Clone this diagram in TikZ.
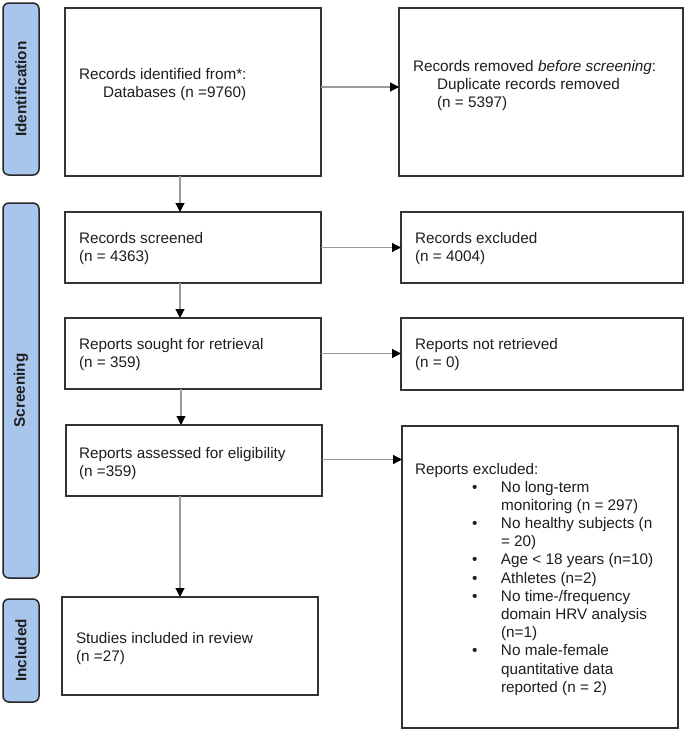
\documentclass[tikz,border=0pt]{standalone}
\usepackage{fontspec}
\setmainfont{Liberation Sans}
\usetikzlibrary{arrows.meta}
\definecolor{lblfill}{HTML}{A8C6EC}
\definecolor{boxline}{HTML}{333333}
\definecolor{arrline}{HTML}{9A9A9A}
\definecolor{txtcol}{HTML}{1E1E1E}
\tikzset{
  box/.style={draw=boxline, line width=1.6pt, fill=white, inner sep=0pt, outer sep=0pt},
  phase/.style={draw=black!85, line width=1.5pt, fill=lblfill, rounded corners=6pt, inner sep=0pt, outer sep=0pt},
  phasetext/.style={rotate=90, text=txtcol, font=\fontsize{15.3}{18.2}\selectfont\bfseries},
  txt/.style={anchor=base west, inner sep=0pt, outer sep=0pt, text=txtcol, font=\fontsize{15.3}{18.2}\selectfont},
  arr/.style={draw=arrline, line width=1.2pt, -{Triangle[length=9pt,width=9pt,color=black,fill=black]}}
}
\begin{document}
\begin{tikzpicture}[x=1pt,y=-1pt]
\useasboundingbox (0,0) rectangle (685,731);
% phase labels
\node[phase, minimum width=36pt, minimum height=172pt, anchor=north west] (lid) at (3,3) {};
\node[phasetext] at (lid.center) {Identification};
\node[phase, minimum width=36pt, minimum height=375pt, anchor=north west] (lsc) at (3,203) {};
\node[phasetext] at (lsc.center) {Screening};
\node[phase, minimum width=36pt, minimum height=103pt, anchor=north west] (lin) at (3,599) {};
\node[phasetext] at (lin.center) {Included};
% boxes
\node[box, minimum width=256pt, minimum height=168pt, anchor=north west] (b1) at (65,8) {};
\node[box, minimum width=284pt, minimum height=168pt, anchor=north west] (b2) at (399,8) {};
\node[box, minimum width=256pt, minimum height=71pt, anchor=north west] (b3) at (65,212) {};
\node[box, minimum width=282pt, minimum height=71pt, anchor=north west] (b4) at (401,212) {};
\node[box, minimum width=256pt, minimum height=71pt, anchor=north west] (b5) at (65,318) {};
\node[box, minimum width=282pt, minimum height=72pt, anchor=north west] (b6) at (401,318) {};
\node[box, minimum width=256pt, minimum height=71pt, anchor=north west] (b7) at (66,425) {};
\node[box, minimum width=276pt, minimum height=302pt, anchor=north west] (b8) at (402,426) {};
\node[box, minimum width=256pt, minimum height=98pt, anchor=north west] (b9) at (62,597) {};
% texts
\node[txt] (t1) at (79,79) {\begin{tabular}[t]{@{}l@{}}Records identified from*:\\\hspace*{24pt}Databases (n =9760)\end{tabular}};
\node[txt] (t2) at (413,71) {\begin{tabular}[t]{@{}l@{}}Records removed \textit{before screening}:\\\hspace*{24pt}Duplicate records removed\\\hspace*{24pt}(n = 5397)\end{tabular}};
\node[txt] (t3) at (79,243) {\begin{tabular}[t]{@{}l@{}}Records screened\\(n = 4363)\end{tabular}};
\node[txt] (t4) at (415,243) {\begin{tabular}[t]{@{}l@{}}Records excluded\\(n = 4004)\end{tabular}};
\node[txt] (t5) at (79,349) {\begin{tabular}[t]{@{}l@{}}Reports sought for retrieval\\(n = 359)\end{tabular}};
\node[txt] (t6) at (415,349) {\begin{tabular}[t]{@{}l@{}}Reports not retrieved\\(n = 0)\end{tabular}};
\node[txt] (t7) at (79,458) {\begin{tabular}[t]{@{}l@{}}Reports assessed for eligibility\\(n =359)\end{tabular}};
\node[txt] (t8) at (415,474) {Reports excluded:};
\node[txt] (t8b) at (472,492) {\begin{tabular}[t]{@{}l@{}}
\makebox[29pt][l]{\textbullet}No long-term\\
\hspace*{29pt}monitoring (n = 297)\\
\makebox[29pt][l]{\textbullet}No healthy subjects (n\\
\hspace*{29pt}= 20)\\
\makebox[29pt][l]{\textbullet}Age < 18 years (n=10)\\
\makebox[29pt][l]{\textbullet}Athletes (n=2)\\
\makebox[29pt][l]{\textbullet}No time-/frequency\\
\hspace*{29pt}domain HRV analysis\\
\hspace*{29pt}(n=1)\\
\makebox[29pt][l]{\textbullet}No male-female\\
\hspace*{29pt}quantitative data\\
\hspace*{29pt}reported (n = 2)\end{tabular}};
\node[txt] (t9) at (76,643) {\begin{tabular}[t]{@{}l@{}}Studies included in review\\(n =27)\end{tabular}};
% connectors
\draw[arr] ([yshift=5pt]b1.east) -- ([yshift=5pt]b1.east -| b2.west);
\draw[arr] (b3.east) -- (b3.east -| b4.west);
\draw[arr] (b5.east) -- (b5.east -| b6.west);
\draw[arr] ([yshift=1pt]b7.east) -- ([yshift=1pt]b7.east -| b8.west);
\draw[arr] ([xshift=-13pt]b1.south) -- ([xshift=-13pt]b1.south |- b3.north);
\draw[arr] ([xshift=-13pt]b3.south) -- ([xshift=-13pt]b3.south |- b5.north);
\draw[arr] ([xshift=-12pt]b5.south) -- ([xshift=-12pt]b5.south |- b7.north);
\draw[arr] ([xshift=-14pt]b7.south) -- ([xshift=-14pt]b7.south |- b9.north);
\end{tikzpicture}
\end{document}
